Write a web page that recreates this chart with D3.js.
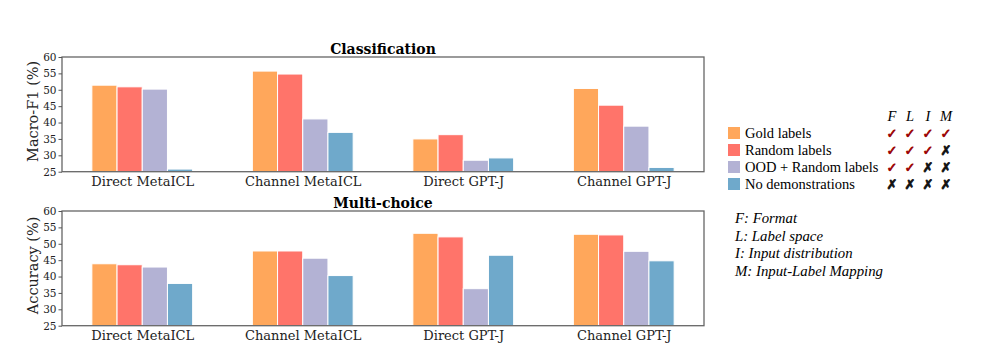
<!DOCTYPE html>
<html><head><meta charset="utf-8">
<script src="https://cdn.jsdelivr.net/npm/d3@7"></script>
<style>body{margin:0;background:#fff}</style>
</head><body>
<svg id="c" width="994" height="356"></svg>
<script>
const categories = ["Direct MetaICL","Channel MetaICL","Direct GPT-J","Channel GPT-J"];
const seriesNames = ["Gold labels","Random labels","OOD + Random labels","No demonstrations"];
const colors = ["#FFA75B","#FF746A","#B3B2D4","#6FA9CB"];
const clsGold = [51.4,55.7,35.0,50.4];
const clsRandom = [50.9,54.8,36.3,45.3];
const clsOOD = [50.2,41.1,28.5,38.9];
const clsNoDemo = [25.8,37.0,29.2,26.3];
const mcGold = [43.9,47.8,53.2,52.9];
const mcRandom = [43.6,47.8,52.1,52.7];
const mcOOD = [42.9,45.6,36.3,47.7];
const mcNoDemo = [37.9,40.3,46.5,44.8];
const yTicks = [25,30,35,40,45,50,55,60];
const flagHeader = ["F","L","I","M"];
const flags = [[1,1,1,1],[1,1,1,0],[1,1,0,0],[0,0,0,0]];
const glossary = ["F: Format","L: Label space","I: Input distribution","M: Input-Label Mapping"];

const svg = d3.select("#c");
const L = 62, R = 704;
const x = d3.scaleLinear().domain([-0.5,3.5]).range([L,R]);
const barW = 0.157;

function panel(top, bottom, title, ylabel, data){
  const y = d3.scaleLinear().domain([25,60]).range([bottom,top]);
  const g = svg.append("g");
  data.forEach((vals,si)=>{
    g.selectAll(null).data(vals).enter().append("rect")
      .attr("x",(d,i)=>x(i + (si-2)*barW))
      .attr("width",x(barW)-x(0))
      .attr("y",d=>y(d))
      .attr("height",d=>y(25)-y(d))
      .attr("fill",colors[si])
      .attr("stroke","#fff").attr("stroke-width",1);
  });
  g.append("rect").attr("x",L).attr("y",top).attr("width",R-L).attr("height",bottom-top)
    .attr("fill","none").attr("stroke","#666").attr("stroke-width",1.3);
  const ya = g.append("g").attr("transform",`translate(${L},0)`)
    .call(d3.axisLeft(y).tickValues(yTicks).tickSize(3.5).tickPadding(2));
  ya.select(".domain").remove();
  ya.selectAll("line").attr("stroke","#555");
  ya.selectAll("text").attr("font-family","DejaVu Serif").attr("font-size",10.5).attr("fill","#222");
  const xa = g.append("g").attr("transform",`translate(0,${bottom})`)
    .call(d3.axisBottom(x).tickValues([0,1,2,3]).tickFormat(i=>categories[i]).tickSize(0).tickPadding(5));
  xa.select(".domain").remove();
  xa.selectAll("text").attr("font-family","DejaVu Serif").attr("font-size",13).attr("fill","#222");
  g.append("text").attr("x",(L+R)/2).attr("y",top-3).attr("text-anchor","middle")
    .attr("font-family","DejaVu Serif").attr("font-weight","bold").attr("font-size",14).text(title);
  g.append("text").attr("transform",`translate(${L-24},${(top+bottom)/2 - 3}) rotate(-90)`)
    .attr("text-anchor","middle").attr("font-family","DejaVu Serif").attr("font-size",14.5).attr("fill","#222").text(ylabel);
}
panel(57,171.7,"Classification","Macro-F1 (%)",[clsGold,clsRandom,clsOOD,clsNoDemo]);
panel(211,325.7,"Multi-choice","Accuracy (%)",[mcGold,mcRandom,mcOOD,mcNoDemo]);

// legend
const lg = svg.append("g");
const colX = [892,910,928,946];
lg.selectAll(null).data(flagHeader).enter().append("text")
  .attr("x",(d,i)=>colX[i]).attr("y",121).attr("text-anchor","middle")
  .attr("font-family","Liberation Serif").attr("font-style","italic").attr("font-size",14.5).text(d=>d);
seriesNames.forEach((n,i)=>{
  const cy = 133 + i*17;
  lg.append("rect").attr("x",728).attr("y",cy-6).attr("width",12).attr("height",12).attr("fill",colors[i]);
  lg.append("text").attr("x",745).attr("y",cy+5).attr("font-family","Liberation Serif").attr("font-size",14.5).text(n);
  flags[i].forEach((f,j)=>{
    lg.append("text").attr("x",colX[j]).attr("y",cy+5).attr("text-anchor","middle")
      .attr("font-family","DejaVu Sans").attr("font-size",13)
      .attr("fill",f?"#9b0000":"#111")
      .attr("stroke",f?"#9b0000":"#111").attr("stroke-width",0.8)
      .text(f?"\u2713":"\u2717");
  });
});
glossary.forEach((t,i)=>{
  svg.append("text").attr("x",735).attr("y",223+i*17.5)
    .attr("font-family","Liberation Serif").attr("font-style","italic").attr("font-size",14.8).text(t);
});
</script>
</body></html>
